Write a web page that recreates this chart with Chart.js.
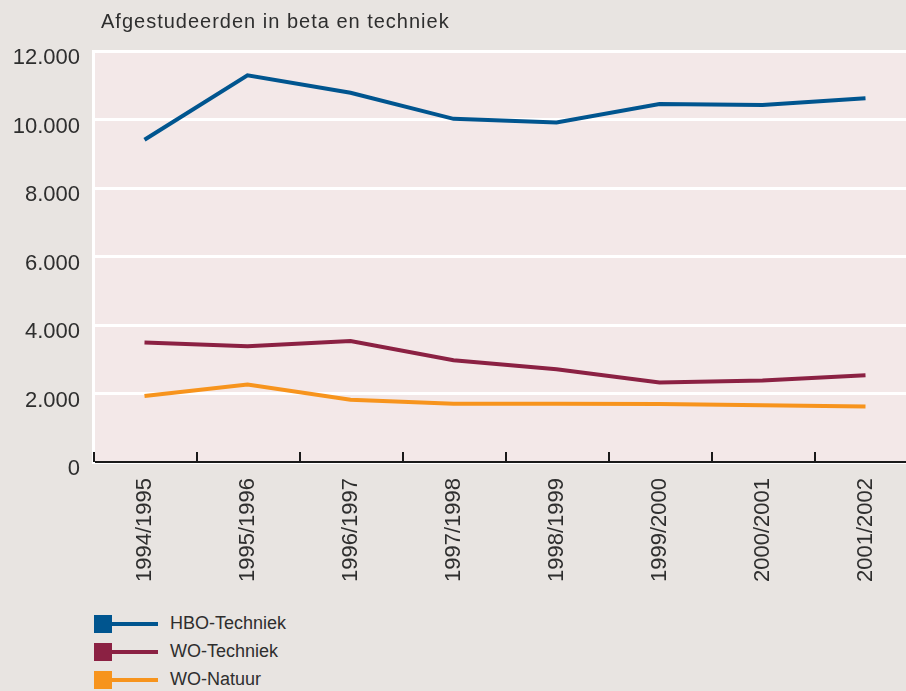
<!DOCTYPE html>
<html>
<head>
<meta charset="utf-8">
<script src="https://cdn.jsdelivr.net/npm/chart.js@4"></script>
<style>
  html, body { margin: 0; padding: 0; background: #e8e4e1; overflow: hidden; width: 906px; height: 691px; }
  #wrap { position: relative; width: 906px; height: 691px; }
  #chart { position: absolute; left: 0; top: 0; }
  #title { position: absolute; left: 101px; top: 10px; font: 20px "Liberation Sans", Arial, sans-serif; letter-spacing: 1px; color: #2e2e2e; }
  #legend { position: absolute; left: 94px; top: 614px; font: 18px "Liberation Sans", Arial, sans-serif; color: #2e2e2e; }
  .row { position: relative; height: 28px; }
  .sq { position: absolute; left: 0; top: 1px; width: 18px; height: 18px; }
  .ln { position: absolute; left: 18px; top: 8px; width: 46px; height: 4px; }
  .lb { position: absolute; left: 76px; top: -1px; white-space: nowrap; }
</style>
</head>
<body>
<div id="wrap">
  <canvas id="chart" width="917" height="600"></canvas>
  <div id="title">Afgestudeerden in beta en techniek</div>
  <div id="legend"></div>
</div>
<script>
  // Data
  const years = ['1994/1995', '1995/1996', '1996/1997', '1997/1998', '1998/1999', '1999/2000', '2000/2001', '2001/2002'];
  const hboTechniek = [9410, 11290, 10780, 10020, 9910, 10450, 10420, 10620];
  const woTechniek = [3490, 3380, 3530, 2970, 2710, 2320, 2380, 2530];
  const woNatuur = [1930, 2260, 1820, 1700, 1700, 1690, 1660, 1620];
  const yTicks = [0, 2000, 4000, 6000, 8000, 10000, 12000];

  const series = [
    { label: 'HBO-Techniek', data: hboTechniek, color: '#00558f' },
    { label: 'WO-Techniek', data: woTechniek, color: '#8b2143' },
    { label: 'WO-Natuur', data: woNatuur, color: '#f7941d' }
  ];

  function formatNumber(v) {
    return String(v).replace(/\B(?=(\d{3})+(?!\d))/g, '.');
  }

  // pink plot area behind the grid
  const plotBackground = {
    id: 'plotBackground',
    beforeDraw(chart) {
      const a = chart.chartArea;
      const ctx = chart.ctx;
      ctx.save();
      ctx.fillStyle = '#f3e8e8';
      ctx.fillRect(a.left, a.top, a.right - a.left, a.bottom - a.top);
      ctx.restore();
    }
  };

  // short black ticks pointing up, between the categories
  const innerTicks = {
    id: 'innerTicks',
    afterDatasetsDraw(chart) {
      const x = chart.scales.x;
      const ctx = chart.ctx;
      const step = (x.right - x.left) / years.length;
      ctx.save();
      ctx.strokeStyle = '#1a1a1a';
      ctx.lineWidth = 2;
      ctx.beginPath();
      for (let i = 0; i <= years.length; i++) {
        const px = Math.round(x.left + i * step) + 1;
        ctx.moveTo(px, x.top - 10);
        ctx.lineTo(px, x.top);
      }
      ctx.stroke();
      ctx.restore();
    }
  };

  const ctx = document.getElementById('chart').getContext('2d');
  new Chart(ctx, {
    type: 'line',
    data: {
      labels: years,
      datasets: series.map(s => ({
        label: s.label,
        data: s.data,
        borderColor: s.color,
        backgroundColor: s.color,
        borderWidth: 4,
        pointRadius: 0,
        tension: 0,
        fill: false
      }))
    },
    options: {
      responsive: false,
      animation: false,
      layout: { padding: { top: 51, left: 0, right: 0, bottom: 0 } },
      plugins: {
        legend: { display: false },
        tooltip: { enabled: false }
      },
      scales: {
        x: {
          offset: true,
          grid: { display: false },
          border: { display: true, color: '#1a1a1a', width: 2 },
          ticks: {
            autoSkip: false,
            minRotation: 90,
            maxRotation: 90,
            padding: 8,
            color: '#2e2e2e',
            font: { family: 'Liberation Sans', size: 22 }
          },
          afterFit(scale) { scale.height = 600 - 462; }
        },
        y: {
          min: 0,
          max: 12000,
          afterBuildTicks(scale) { scale.ticks = yTicks.map(v => ({ value: v })); },
          grid: { color: '#ffffff', lineWidth: 3, drawTicks: false },
          border: { display: true, color: '#ffffff', width: 3 },
          ticks: {
            padding: 13,
            labelOffset: 7,
            color: '#2e2e2e',
            font: { family: 'Liberation Sans', size: 22 },
            callback: v => formatNumber(v)
          },
          afterFit(scale) { scale.width = 93; }
        }
      }
    },
    plugins: [plotBackground, innerTicks]
  });

  // legend: square + line + label, built from the series list
  const legend = document.getElementById('legend');
  series.forEach(s => {
    const row = document.createElement('div');
    row.className = 'row';
    row.innerHTML = '<span class="sq" style="background:' + s.color + '"></span>' +
      '<span class="ln" style="background:' + s.color + '"></span>' +
      '<span class="lb">' + s.label + '</span>';
    legend.appendChild(row);
  });
</script>
</body>
</html>
